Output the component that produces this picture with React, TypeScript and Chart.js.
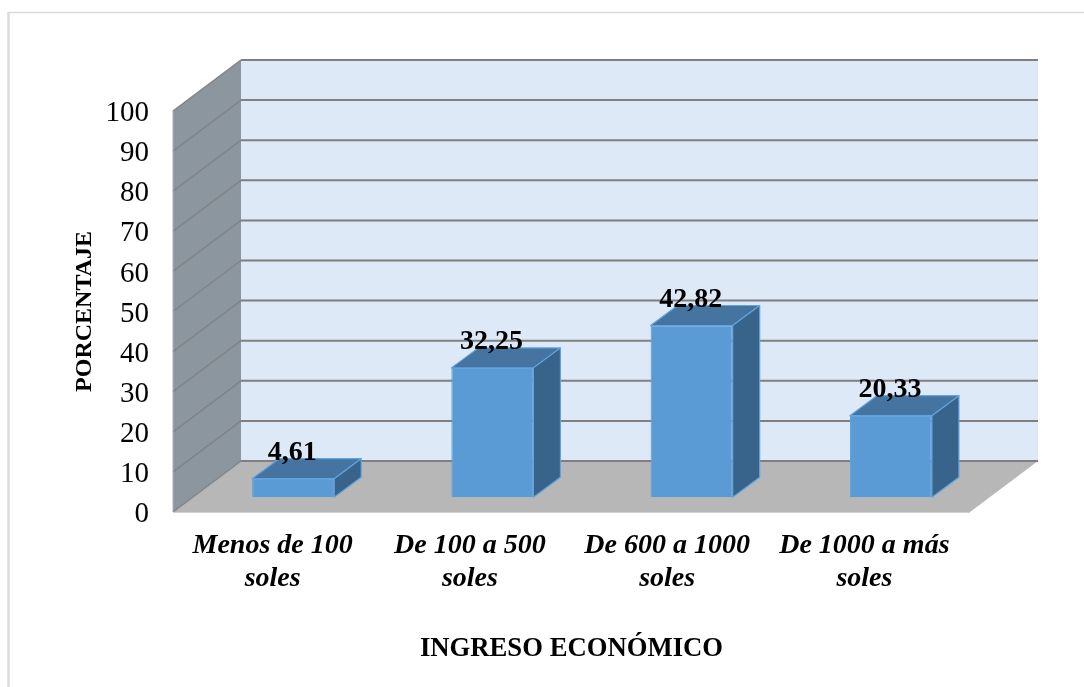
import React, { useEffect, useRef } from "react";
import { Chart, registerables } from "chart.js";

Chart.register(...registerables);

// Income brackets and the share of respondents in each one
const categories = [
  ["Menos de 100", "soles"],
  ["De 100 a 500", "soles"],
  ["De 600 a 1000", "soles"],
  ["De 1000 a más", "soles"],
];
const percentages = [4.61, 32.25, 42.82, 20.33];
const axisTitleX = "INGRESO ECONÓMICO";
const axisTitleY = "PORCENTAJE";

const SERIF = '"Liberation Serif", serif';

// Oblique projection used by the box: how far the back wall sits from the front plane
const ROOM_DX = 68;
const ROOM_DY = -51;
// Where the bars stand inside the room, and how deep they are
const BAR_DX = 20.5;
const BAR_DY = -14.8;
const BAR_DEPTH_X = 27;
const BAR_DEPTH_Y = -20;

const poly = (ctx: CanvasRenderingContext2D, pts: number[][], fill: string) => {
  ctx.beginPath();
  pts.forEach(([x, y], i) => (i ? ctx.lineTo(x, y) : ctx.moveTo(x, y)));
  ctx.closePath();
  ctx.fillStyle = fill;
  ctx.fill();
};

const line = (
  ctx: CanvasRenderingContext2D,
  x0: number,
  y0: number,
  x1: number,
  y1: number,
  color: string,
  width: number
) => {
  ctx.beginPath();
  ctx.moveTo(x0, y0);
  ctx.lineTo(x1, y1);
  ctx.strokeStyle = color;
  ctx.lineWidth = width;
  ctx.stroke();
};

// Offsets the tick labels a scale lays out, without touching the scale's mapping
const nudgeLabels = (scale: any, dx: (i: number) => number, dy: number) => {
  if (scale.__nudged) return;
  scale.__nudged = true;
  const compute = scale._computeLabelItems.bind(scale);
  scale._computeLabelItems = (area: any) =>
    compute(area).map((item: any, i: number) => {
      const [x, y] = item.options.translation;
      return { ...item, options: { ...item.options, translation: [x + dx(i), y + dy] } };
    });
};

// Page frame, back wall, side wall, floor and the gridlines folded across the walls
const roomPlugin = {
  id: "room",
  beforeDraw(chart: any) {
    const { ctx, chartArea: a, scales, width, height } = chart;
    const y = scales.y;
    const y0 = y.getPixelForValue(0);
    const y100 = y.getPixelForValue(100);
    ctx.save();
    ctx.fillStyle = "#ffffff";
    ctx.fillRect(0, 0, width, height);
    line(ctx, 8, 12.5, width, 12.5, "#d9d9d9", 1.5);
    line(ctx, 8.5, 12, 8.5, height, "#dcdcdc", 2.5);

    poly(
      ctx,
      [
        [a.left + ROOM_DX, y100 + ROOM_DY],
        [a.right + ROOM_DX, y100 + ROOM_DY],
        [a.right + ROOM_DX, y0 + ROOM_DY],
        [a.left + ROOM_DX, y0 + ROOM_DY],
      ],
      "#dee9f8"
    );
    poly(
      ctx,
      [
        [a.left, y100],
        [a.left + ROOM_DX, y100 + ROOM_DY],
        [a.left + ROOM_DX, y0 + ROOM_DY],
        [a.left, y0],
      ],
      "#8c969e"
    );
    poly(
      ctx,
      [
        [a.left, y0],
        [a.left + ROOM_DX, y0 + ROOM_DY],
        [a.right + ROOM_DX, y0 + ROOM_DY],
        [a.right, y0],
      ],
      "#b7b7b7"
    );
    y.ticks.forEach((t: any) => {
      const py = y.getPixelForValue(t.value);
      line(ctx, a.left, py, a.left + ROOM_DX, py + ROOM_DY, "#7f8488", 1.5);
      line(ctx, a.left + ROOM_DX, py + ROOM_DY, a.right + ROOM_DX, py + ROOM_DY, "#7f7f7f", 2);
    });
    line(ctx, a.left, y0 + 0.5, a.right, y0 + 0.5, "#d0d0d0", 1);
    line(ctx, a.left, y100, a.left, y0, "#a9b0b5", 1);
    ctx.restore();
  },
};

// Bars are pushed into the room; their top and side faces follow the native front face
const boxPlugin = {
  id: "box",
  beforeDatasetDraw(chart: any) {
    chart.ctx.save();
    chart.ctx.translate(BAR_DX, BAR_DY);
  },
  afterDatasetDraw(chart: any, args: any) {
    const { ctx } = chart;
    args.meta.data.forEach((el: any) => {
      const l = el.x - el.width / 2;
      const r = el.x + el.width / 2;
      const t = el.y;
      const b = el.base;
      const top = [
        [l, t],
        [r, t],
        [r + BAR_DEPTH_X, t + BAR_DEPTH_Y],
        [l + BAR_DEPTH_X, t + BAR_DEPTH_Y],
      ];
      const side = [
        [r, t],
        [r + BAR_DEPTH_X, t + BAR_DEPTH_Y],
        [r + BAR_DEPTH_X, b + BAR_DEPTH_Y],
        [r, b],
      ];
      for (const [face, fill] of [
        [top, "#44749f"],
        [side, "#38648b"],
      ] as [number[][], string][]) {
        poly(ctx, face, fill);
        ctx.strokeStyle = "#62a3de";
        ctx.lineWidth = 1.2;
        ctx.lineJoin = "round";
        ctx.stroke();
      }
    });
    ctx.restore();
  },
  afterDatasetsDraw(chart: any) {
    const { ctx } = chart;
    const meta = chart.getDatasetMeta(0);
    ctx.save();
    ctx.font = `bold 28px ${SERIF}`;
    ctx.fillStyle = "#000000";
    ctx.textAlign = "center";
    ctx.textBaseline = "middle";
    meta.data.forEach((el: any, i: number) => {
      const text = percentages[i].toFixed(2).replace(".", ",");
      ctx.fillText(text, el.x + BAR_DX - 1, el.y + BAR_DY - 26);
    });
    ctx.restore();
  },
};

export default function App() {
  const ref = useRef<HTMLCanvasElement>(null);

  useEffect(() => {
    const chart = new Chart(ref.current as HTMLCanvasElement, {
      type: "bar",
      data: {
        labels: categories,
        datasets: [
          {
            data: percentages,
            backgroundColor: "#5b9bd5",
            borderColor: "#62a3de",
            borderWidth: 1.2,
            barPercentage: 0.412,
            categoryPercentage: 1,
            clip: false,
          } as any,
        ],
      },
      options: {
        responsive: false,
        animation: false,
        layout: { padding: { left: 0, top: 111, right: 114, bottom: 0 } },
        plugins: { legend: { display: false }, tooltip: { enabled: false } },
        scales: {
          x: {
            grid: { display: false, drawTicks: false },
            border: { display: false },
            ticks: {
              color: "#000000",
              padding: 17,
              maxRotation: 0,
              autoSkip: false,
              font: { family: SERIF, size: 28, style: "italic", weight: "bold", lineHeight: 1.18 },
            },
            title: {
              display: true,
              text: axisTitleX,
              color: "#000000",
              padding: { top: 0, bottom: 22 },
              font: { family: SERIF, size: 26.7, weight: "bold", lineHeight: 1.2 },
            },
            afterFit(s: any) {
              s.height = 175;
            },
            beforeUpdate(s: any) {
              nudgeLabels(s, (i) => -2 * i, 0);
            },
          },
          y: {
            min: 0,
            max: 100,
            grid: { display: false, drawTicks: false },
            border: { display: false },
            ticks: {
              stepSize: 10,
              color: "#000000",
              padding: 24,
              font: { family: SERIF, size: 29 },
            },
            title: {
              display: true,
              text: axisTitleY,
              color: "#000000",
              padding: { top: 70, bottom: 0 },
              font: { family: SERIF, size: 24, weight: "bold", lineHeight: 1.2 },
            },
            afterFit(s: any) {
              s.width = 173;
            },
            beforeUpdate(s: any) {
              nudgeLabels(s, () => 0, 2.5);
            },
          },
        },
      },
      plugins: [roomPlugin, boxPlugin],
    } as any);
    return () => chart.destroy();
  }, []);

  return (
    <canvas
      ref={ref}
      width={1084}
      height={687}
      style={{ position: "fixed", left: 0, top: 0, display: "block" }}
    />
  );
}
